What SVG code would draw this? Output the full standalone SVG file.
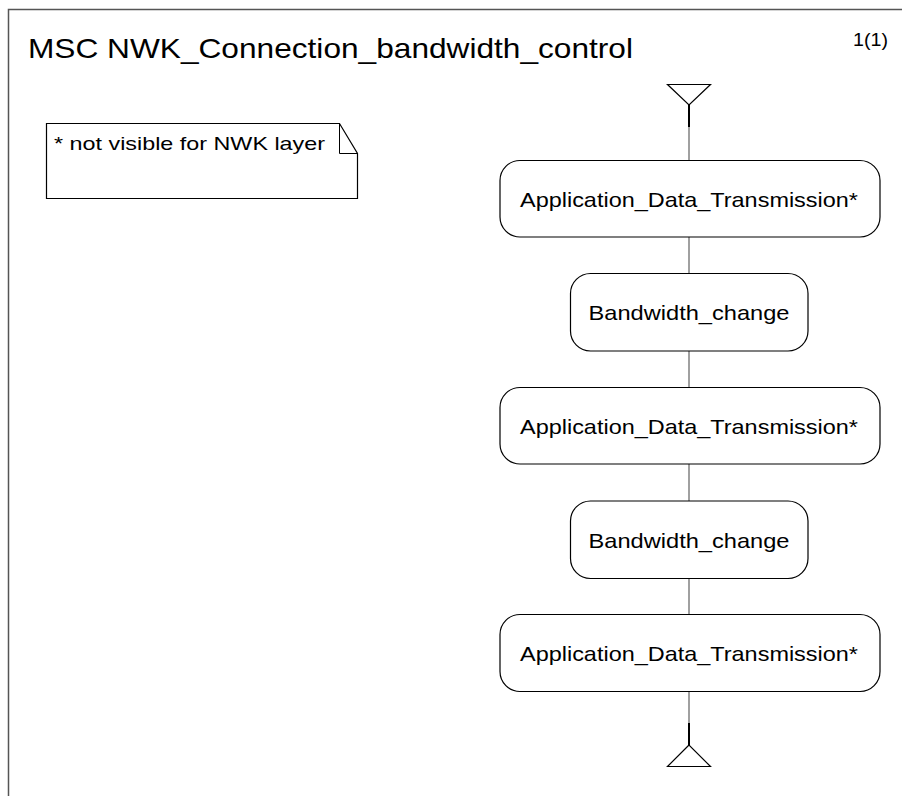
<svg xmlns="http://www.w3.org/2000/svg" width="902" height="796" viewBox="0 0 902 796">
<style>
text{font-family:"Liberation Sans",Arial,sans-serif;fill:#000}
.box{fill:#fff;stroke:#000;stroke-width:1.2}
.t{font-size:21px;text-anchor:middle}
.gl{stroke:#808080;stroke-width:1.5;fill:none}
.bl{stroke:#000;stroke-width:2;fill:none}
.tri{fill:#fff;stroke:#000;stroke-width:1.2}
</style>
<rect width="902" height="796" fill="#fff"/>
<g id="frame">
<path d="M8.5,796 V9.5 H902" fill="none" stroke="#555" stroke-width="1.5"/>
<text x="28" y="58" font-size="28" textLength="605" lengthAdjust="spacingAndGlyphs">MSC NWK_Connection_bandwidth_control</text>
<text x="853" y="46" font-size="18" textLength="35" lengthAdjust="spacingAndGlyphs">1(1)</text>
</g>
<g id="note">
<path d="M46.5,123.5 H339.5 L357.5,153.5 V198.5 H46.5 Z" fill="#fff" stroke="#000" stroke-width="1.2"/>
<path d="M339.5,123.5 V153.5 H357.5" fill="none" stroke="#000" stroke-width="1"/>
<text x="54" y="150" font-size="19" textLength="271" lengthAdjust="spacingAndGlyphs">* not visible for NWK layer</text>
</g>
<g id="connectors">
<line class="bl" x1="689" y1="105" x2="689" y2="127"/>
<line class="gl" x1="689" y1="127" x2="689" y2="160"/>
<line class="gl" x1="689" y1="237" x2="689" y2="273"/>
<line class="gl" x1="689" y1="351" x2="689" y2="387"/>
<line class="gl" x1="689" y1="464" x2="689" y2="501"/>
<line class="gl" x1="689" y1="578" x2="689" y2="614"/>
<line class="gl" x1="689" y1="692" x2="689" y2="723"/>
<line class="bl" x1="689" y1="723" x2="689" y2="745"/>
</g>
<g id="start">
<polygon class="tri" points="667.5,84.5 710.5,84.5 689,105"/>
</g>
<g id="end">
<polygon class="tri" points="689,745 667.5,766.5 710.5,766.5"/>
</g>
<g id="adt1">
<rect class="box" x="500" y="160.5" width="380" height="76.5" rx="20" ry="20"/>
<text class="t" x="689" y="207" textLength="338" lengthAdjust="spacingAndGlyphs">Application_Data_Transmission*</text>
</g>
<g id="bw1">
<rect class="box" x="570.5" y="273.5" width="237.5" height="77.5" rx="20" ry="20"/>
<text class="t" x="689" y="320" textLength="201" lengthAdjust="spacingAndGlyphs">Bandwidth_change</text>
</g>
<g id="adt2">
<rect class="box" x="500" y="387.5" width="380" height="76.5" rx="20" ry="20"/>
<text class="t" x="689" y="434" textLength="338" lengthAdjust="spacingAndGlyphs">Application_Data_Transmission*</text>
</g>
<g id="bw2">
<rect class="box" x="570.5" y="501" width="237.5" height="77.5" rx="20" ry="20"/>
<text class="t" x="689" y="548" textLength="201" lengthAdjust="spacingAndGlyphs">Bandwidth_change</text>
</g>
<g id="adt3">
<rect class="box" x="500" y="614.5" width="380" height="77" rx="20" ry="20"/>
<text class="t" x="689" y="661" textLength="338" lengthAdjust="spacingAndGlyphs">Application_Data_Transmission*</text>
</g>
</svg>
